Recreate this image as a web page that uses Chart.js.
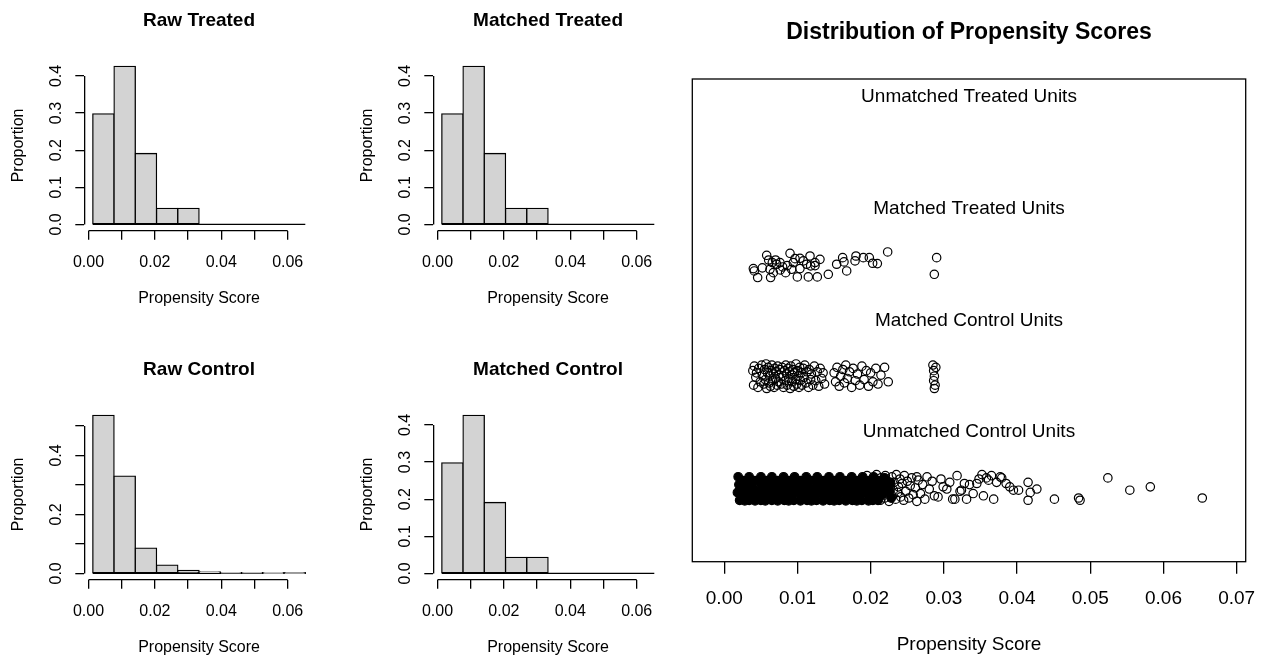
<!DOCTYPE html>
<html>
<head>
<meta charset="utf-8">
<title>Distribution of Propensity Scores</title>
<script src="https://cdn.jsdelivr.net/npm/chart.js@4.4.1/dist/chart.umd.min.js"></script>
<style>
  html, body { margin: 0; padding: 0; background: #fff; }
  body { width: 1262px; height: 657px; position: relative; overflow: hidden; }
  canvas { position: absolute; }
</style>
</head>
<body>
<canvas id="rawTreated" width="349" height="308" style="left:0;top:0"></canvas>
<canvas id="matchedTreated" width="349" height="308" style="left:349px;top:0"></canvas>
<canvas id="rawControl" width="349" height="308" style="left:0;top:349px"></canvas>
<canvas id="matchedControl" width="349" height="308" style="left:349px;top:349px"></canvas>
<canvas id="jitter" width="602" height="657" style="left:660px;top:0"></canvas>
<script>
// Configuración común - estilo R base
Chart.defaults.font.family = "'Liberation Sans', Arial, sans-serif";
Chart.defaults.color = '#000';
Chart.defaults.animation = false;
Chart.defaults.events = [];
Chart.defaults.plugins.legend.display = false;
Chart.defaults.plugins.tooltip.enabled = false;

// ---- histogram data ----
const binEdges = [0.0013, 0.0077, 0.0141, 0.0205, 0.0269, 0.0333, 0.0397, 0.0461, 0.0525, 0.0589, 0.0653];
const rawTreatedProp = [0.298, 0.426, 0.191, 0.043, 0.043, 0, 0, 0, 0, 0];
const matchedTreatedProp = [0.298, 0.426, 0.191, 0.043, 0.043, 0, 0, 0, 0, 0];
const rawControlProp = [0.536, 0.330, 0.086, 0.028, 0.010, 0.005, 0.001, 0.0008, 0.0005, 0.0002];
const matchedControlProp = [0.298, 0.426, 0.191, 0.043, 0.043, 0, 0, 0, 0, 0];

const histXTicks = [0, 0.01, 0.02, 0.03, 0.04, 0.05, 0.06];
const histXLabels = ['0.00', '', '0.02', '', '0.04', '', '0.06'];
const treatedYTicks = [0, 0.1, 0.2, 0.3, 0.4];
const treatedYLabels = ['0.0', '0.1', '0.2', '0.3', '0.4'];
const controlYTicks = [0, 0.1, 0.2, 0.3, 0.4, 0.5];
const controlYLabels = ['0.0', '', '0.2', '', '0.4', ''];

// ---- jitter plot data: [propensity score, row + jitter] ----
const jitterXTicks = [0, 0.01, 0.02, 0.03, 0.04, 0.05, 0.06, 0.07];
const jitterXLabels = ['0.00', '0.01', '0.02', '0.03', '0.04', '0.05', '0.06', '0.07'];
const rowLabels = ['Unmatched Treated Units', 'Matched Treated Units', 'Matched Control Units', 'Unmatched Control Units'];
const rowLabelY = [4.5, 3.5, 2.5, 1.5];

const matchedTreatedPts = [
  [0.00397, 2.963], [0.00410, 2.942], [0.00456, 2.883], [0.00520, 2.970], [0.00579, 3.082],
  [0.00606, 3.040], [0.00624, 2.957], [0.00633, 2.883], [0.00656, 3.017], [0.00670, 2.927],
  [0.00700, 3.040], [0.00715, 3.002], [0.00761, 3.017], [0.00765, 2.951], [0.00797, 2.978],
  [0.00838, 2.927], [0.00860, 2.990], [0.00898, 3.100], [0.00920, 2.957], [0.00943, 3.017],
  [0.00966, 3.052], [0.00998, 2.889], [0.01034, 3.055], [0.01034, 2.963], [0.01080, 3.032],
  [0.01125, 3.002], [0.01148, 2.889], [0.01171, 3.076], [0.01180, 2.987], [0.01239, 3.017],
  [0.01240, 2.990], [0.01271, 2.889], [0.01307, 3.046], [0.01421, 2.912], [0.01535, 3.002],
  [0.01617, 3.061], [0.01635, 3.023], [0.01672, 2.942], [0.01786, 3.032], [0.01799, 3.076],
  [0.01899, 3.061], [0.01981, 3.061], [0.02027, 3.011], [0.02091, 3.008], [0.02232, 3.112],
  [0.02869, 2.912], [0.02901, 3.061]
];

const matchedControlPts = [
  [0.0039, 2.05], [0.0040, 1.92], [0.0041, 2.09], [0.0043, 1.99], [0.0044, 2.03], [0.0046, 1.90],
  [0.0047, 2.07], [0.0049, 1.95], [0.0051, 2.10], [0.0052, 2.01], [0.0054, 1.93], [0.0055, 2.06],
  [0.0056, 1.97], [0.0057, 2.11], [0.0058, 1.89], [0.0059, 2.03], [0.0060, 2.08], [0.0061, 1.94],
  [0.0062, 2.00], [0.0063, 1.91], [0.0064, 2.05], [0.0065, 2.10], [0.0066, 1.96], [0.0067, 2.02],
  [0.0068, 1.90], [0.0069, 2.07], [0.0070, 1.98], [0.0071, 2.04], [0.0072, 1.92], [0.0073, 2.09],
  [0.0074, 1.95], [0.0075, 2.01], [0.0076, 2.06],
  [0.0078, 1.93], [0.0079, 2.08], [0.0080, 2.00], [0.0081, 1.90], [0.0082, 2.05], [0.0083, 1.96],
  [0.0084, 2.10], [0.0085, 2.02], [0.0086, 1.92], [0.0087, 2.07], [0.0088, 1.98], [0.0089, 2.04],
  [0.0090, 1.89], [0.0091, 2.09], [0.0092, 1.95], [0.0093, 2.01], [0.0094, 2.06], [0.0095, 1.91],
  [0.0096, 2.03], [0.0097, 1.97], [0.0098, 2.11], [0.0099, 1.93], [0.0100, 2.05], [0.0101, 2.00],
  [0.0102, 1.90], [0.0103, 2.08], [0.0104, 1.96], [0.0105, 2.03], [0.0106, 1.92], [0.0108, 2.07],
  [0.0109, 1.99], [0.0110, 2.10], [0.0112, 1.94], [0.0113, 2.04], [0.0115, 1.90], [0.0116, 2.06],
  [0.0118, 1.97], [0.0119, 2.02], [0.0121, 1.92], [0.0123, 2.09], [0.0125, 1.96], [0.0127, 2.04],
  [0.0129, 1.91], [0.0131, 2.07], [0.0133, 1.98], [0.0135, 2.03], [0.0137, 1.93],
  [0.0150, 2.03], [0.0152, 1.95], [0.0154, 2.08], [0.0157, 1.91], [0.0159, 2.00], [0.0162, 2.06],
  [0.0164, 1.94], [0.0166, 2.10], [0.0168, 1.98], [0.0171, 2.04], [0.0174, 1.90], [0.0176, 2.07],
  [0.0179, 1.96], [0.0182, 2.02], [0.0185, 1.92], [0.0188, 2.09], [0.0191, 1.97], [0.0194, 2.05],
  [0.0197, 1.91], [0.0200, 2.03], [0.0203, 1.95],
  [0.0207, 2.07], [0.0210, 1.93], [0.0214, 2.01], [0.0219, 2.08], [0.0224, 1.95],
  [0.0285, 2.10], [0.0286, 2.05], [0.0287, 2.00], [0.0286, 1.96], [0.0288, 1.92], [0.0287, 1.89], [0.0289, 2.08]
];

// heavily overplotted core of the unmatched controls
const unmatchedCorePts = [
  [0.0019, 1.10], [0.0020, 1.03], [0.0018, 0.96], [0.0021, 0.89],
  [0.0026, 1.065], [0.0027, 0.995], [0.0026, 0.925], [0.0028, 0.885],
  [0.0034, 1.10], [0.0033, 1.03], [0.0035, 0.96], [0.0034, 0.89],
  [0.0042, 1.065], [0.0041, 0.995], [0.0043, 0.925], [0.0042, 0.885],
  [0.0050, 1.10], [0.0051, 1.03], [0.0049, 0.96], [0.0050, 0.89],
  [0.0057, 1.065], [0.0058, 0.995], [0.0057, 0.925], [0.0056, 0.885],
  [0.0065, 1.10], [0.0064, 1.03], [0.0066, 0.96], [0.0065, 0.89],
  [0.0073, 1.065], [0.0072, 0.995], [0.0074, 0.925], [0.0073, 0.885],
  [0.0081, 1.10], [0.0080, 1.03], [0.0081, 0.96], [0.0082, 0.89],
  [0.0088, 1.065], [0.0089, 0.995], [0.0087, 0.925], [0.0088, 0.885],
  [0.0096, 1.10], [0.0097, 1.03], [0.0096, 0.96], [0.0095, 0.89],
  [0.0104, 1.065], [0.0103, 0.995], [0.0105, 0.925], [0.0104, 0.885],
  [0.0112, 1.10], [0.0111, 1.03], [0.0112, 0.96], [0.0113, 0.89],
  [0.0119, 1.065], [0.0120, 0.995], [0.0118, 0.925], [0.0119, 0.885],
  [0.0127, 1.10], [0.0128, 1.03], [0.0127, 0.96], [0.0126, 0.89],
  [0.0135, 1.065], [0.0134, 0.995], [0.0136, 0.925], [0.0135, 0.885],
  [0.0143, 1.10], [0.0142, 1.03], [0.0143, 0.96], [0.0144, 0.89],
  [0.0150, 1.065], [0.0151, 0.995], [0.0149, 0.925], [0.0150, 0.885],
  [0.0158, 1.10], [0.0159, 1.03], [0.0158, 0.96], [0.0157, 0.89],
  [0.0166, 1.065], [0.0165, 0.995], [0.0167, 0.925], [0.0166, 0.885],
  [0.0174, 1.10], [0.0173, 1.03], [0.0174, 0.96], [0.0175, 0.89],
  [0.0181, 1.065], [0.0182, 0.995], [0.0180, 0.925], [0.0181, 0.885],
  [0.0189, 1.10], [0.0190, 1.03], [0.0189, 0.96], [0.0188, 0.89],
  [0.0197, 1.065], [0.0196, 0.995], [0.0198, 0.925], [0.0197, 0.885],
  [0.0204, 1.10], [0.0205, 1.03], [0.0204, 0.96], [0.0203, 0.89],
  [0.0212, 1.065], [0.0211, 0.995], [0.0213, 0.925], [0.0210, 0.89],
  [0.0219, 1.09], [0.0220, 1.02], [0.0218, 0.95],
  [0.0227, 1.05], [0.0226, 0.98], [0.0228, 0.91]
];

const unmatchedControlPts = [
  [0.0195, 1.11], [0.0198, 0.90], [0.0201, 1.00], [0.0204, 1.07], [0.0206, 0.93], [0.0208, 1.12],
  [0.0209, 0.97], [0.0211, 1.04], [0.0213, 0.89], [0.0214, 1.09], [0.0216, 0.95], [0.0217, 1.02],
  [0.0219, 0.91], [0.0220, 1.11], [0.0222, 0.99], [0.0223, 1.06], [0.0225, 0.88], [0.0226, 1.03],
  [0.0228, 0.94], [0.0229, 1.10], [0.0231, 0.98], [0.0232, 1.05], [0.0234, 0.90], [0.0235, 1.12],
  [0.0237, 0.96], [0.0238, 1.01], [0.0240, 1.08], [0.0241, 0.92], [0.0243, 1.04], [0.0245, 0.89],
  [0.0246, 1.11], [0.0248, 0.97], [0.0250, 1.06], [0.0252, 0.91], [0.0254, 1.02], [0.0256, 1.09],
  [0.0258, 0.94], [0.0261, 1.00], [0.0263, 0.88], [0.0265, 1.07],
  [0.0263, 1.10], [0.0268, 0.95], [0.0271, 1.03], [0.0274, 0.90], [0.0277, 1.10], [0.0280, 0.99],
  [0.0284, 1.06], [0.0287, 0.93], [0.0292, 0.92], [0.0296, 1.08], [0.0299, 1.01], [0.0304, 0.99],
  [0.0308, 1.05], [0.0312, 0.90], [0.0315, 0.90], [0.0318, 1.11], [0.0322, 0.97], [0.0324, 0.98],
  [0.0328, 1.04], [0.0331, 0.90], [0.0335, 1.03], [0.0340, 0.95], [0.0345, 1.04], [0.0348, 1.08],
  [0.0352, 1.12], [0.0354, 0.93], [0.0358, 1.09], [0.0361, 1.07], [0.0365, 1.11], [0.0368, 0.90],
  [0.0372, 1.05], [0.0377, 1.10], [0.0379, 1.09], [0.0385, 1.04],
  [0.0390, 1.01], [0.0395, 0.98], [0.0402, 0.98], [0.0415, 1.05], [0.0418, 0.96], [0.0415, 0.89],
  [0.0427, 0.99], [0.0451, 0.90], [0.0484, 0.91], [0.0486, 0.89], [0.0524, 1.09], [0.0554, 0.98],
  [0.0582, 1.01], [0.0653, 0.91]
];

// ---- plugins ----
// R-style axis lines: only from first to last tick
const rAxes = {
    id: 'rAxes',
    afterDraw(chart) {
        const { ctx, scales: { x, y } } = chart;
        const al = p => Math.round(p - 0.65) + 0.65;
        ctx.save();
        ctx.strokeStyle = '#000';
        ctx.lineWidth = 1.3;
        ctx.beginPath();
        ctx.moveTo(x.getPixelForValue(x.ticks[0].value), al(x.top));
        ctx.lineTo(x.getPixelForValue(x.ticks[x.ticks.length - 1].value), al(x.top));
        ctx.moveTo(al(y.right), y.getPixelForValue(y.ticks[0].value));
        ctx.lineTo(al(y.right), y.getPixelForValue(y.ticks[y.ticks.length - 1].value));
        ctx.stroke();
        ctx.restore();
    }
};

const frame = {
    id: 'frame',
    afterDraw(chart) {
        const { ctx, chartArea: { left, top, width, height } } = chart;
        ctx.save();
        ctx.strokeStyle = '#000';
        ctx.lineWidth = 1.3;
        ctx.strokeRect(left, top, width, height);
        ctx.restore();
    }
};

const rowText = {
    id: 'rowText',
    afterDraw(chart) {
        const { ctx, chartArea, scales: { y } } = chart;
        const cx = (chartArea.left + chartArea.right) / 2;
        ctx.save();
        ctx.fillStyle = '#000';
        ctx.font = "19px 'Liberation Sans', Arial, sans-serif";
        ctx.textAlign = 'center';
        ctx.textBaseline = 'middle';
        rowLabels.forEach((t, i) => ctx.fillText(t, cx, y.getPixelForValue(rowLabelY[i])));
        ctx.restore();
    }
};

// no label overflow padding: the layout is fixed by hand
const noPad = s => { s.paddingLeft = 0; s.paddingRight = 0; s.paddingTop = 0; s.paddingBottom = 0; };

// ---- histograms ----
function makeHist(id, title, heights, yTicks, yLabels, yMin, yMax) {
    const bars = heights.map((h, i) => ({ x: (binEdges[i] + binEdges[i + 1]) / 2, y: h }));
    new Chart(document.getElementById(id), {
        type: 'bar',
        data: {
            datasets: [
                {
                    data: bars,
                    backgroundColor: '#D3D3D3',
                    borderColor: '#000',
                    borderWidth: 1.3,
                    borderSkipped: false,
                    inflateAmount: 0.65,
                    barPercentage: 1,
                    categoryPercentage: 1
                },
                {
                    type: 'line',
                    data: [{ x: binEdges[0], y: 0 }, { x: binEdges[binEdges.length - 1], y: 0 }],
                    borderColor: '#000',
                    borderWidth: 1.3,
                    pointRadius: 0
                }
            ]
        },
        options: {
            responsive: false,
            layout: { padding: { left: 0, right: 35.2, top: 0, bottom: 0 } },
            plugins: {
                title: {
                    display: true,
                    text: title,
                    fullSize: false,
                    color: '#000',
                    font: { size: 19, weight: 'bold' },
                    padding: { top: 9.3, bottom: 28.1 }
                }
            },
            scales: {
                x: {
                    type: 'linear',
                    offset: false,
                    min: -0.00126,
                    max: 0.06786,
                    afterBuildTicks: s => { s.ticks = histXTicks.map(v => ({ value: v })); },
                    afterFit: s => { s.height = 77.3; noPad(s); },
                    ticks: {
                        autoSkip: false,
                        maxRotation: 0,
                        padding: 13,
                        font: { size: 16 },
                        callback: (v, i) => histXLabels[i]
                    },
                    grid: { offset: false, drawOnChartArea: false, tickLength: 9, color: '#000', lineWidth: 1.3 },
                    border: { display: false },
                    title: { display: true, text: 'Propensity Score', font: { size: 16 }, padding: { top: 0, bottom: 0 } }
                },
                y: {
                    min: yMin,
                    max: yMax,
                    afterBuildTicks: s => { s.ticks = yTicks.map(v => ({ value: v })); },
                    afterFit: s => { s.width = 84.3; noPad(s); },
                    ticks: {
                        autoSkip: false,
                        minRotation: 90,
                        maxRotation: 90,
                        crossAlign: 'center',
                        padding: 7.2,
                        font: { size: 16 },
                        callback: (v, i) => yLabels[i]
                    },
                    grid: { drawOnChartArea: false, tickLength: 9, color: '#000', lineWidth: 1.3 },
                    border: { display: false },
                    title: { display: true, text: 'Proportion', font: { size: 16 }, padding: { top: 8.7, bottom: 0 } }
                }
            }
        },
        plugins: [rAxes]
    });
}

makeHist('rawTreated', 'Raw Treated', rawTreatedProp, treatedYTicks, treatedYLabels, -0.017, 0.4425);
makeHist('matchedTreated', 'Matched Treated', matchedTreatedProp, treatedYTicks, treatedYLabels, -0.017, 0.4425);
makeHist('rawControl', 'Raw Control', rawControlProp, controlYTicks, controlYLabels, -0.0214, 0.5569);
makeHist('matchedControl', 'Matched Control', matchedControlProp, treatedYTicks, treatedYLabels, -0.017, 0.4425);

// ---- jitter plot ----
const toXY = pts => pts.map(([x, y]) => ({ x, y }));
const ring = {
    pointRadius: 4.2,
    borderWidth: 1.2,
    borderColor: '#000',
    backgroundColor: 'rgba(0,0,0,0)'
};

new Chart(document.getElementById('jitter'), {
    type: 'scatter',
    data: {
        datasets: [
            { label: 'Matched Treated Units', data: toXY(matchedTreatedPts), ...ring },
            { label: 'Matched Control Units', data: toXY(matchedControlPts), ...ring },
            {
                label: 'Unmatched Control Units (core)',
                data: toXY(unmatchedCorePts),
                pointRadius: 4.3,
                borderWidth: 1.2,
                borderColor: '#000',
                backgroundColor: '#000'
            },
            { label: 'Unmatched Control Units', data: toXY(unmatchedControlPts), ...ring }
        ]
    },
    options: {
        responsive: false,
        layout: { padding: { left: 32.3, right: 16.3, top: 0, bottom: 0 } },
        plugins: {
            title: {
                display: true,
                text: 'Distribution of Propensity Scores',
                fullSize: false,
                color: '#000',
                font: { size: 23, weight: 'bold' },
                padding: { top: 18.9, bottom: 32.5 }
            }
        },
        scales: {
            x: {
                type: 'linear',
                min: -0.00437,
                max: 0.07123,
                afterBuildTicks: s => { s.ticks = jitterXTicks.map(v => ({ value: v })); },
                afterFit: s => { s.height = 95.3; noPad(s); },
                ticks: {
                    autoSkip: false,
                    maxRotation: 0,
                    padding: 13.2,
                    font: { size: 19 },
                    callback: (v, i) => jitterXLabels[i]
                },
                grid: { drawOnChartArea: false, tickLength: 12, color: '#000', lineWidth: 1.3 },
                border: { display: false },
                title: { display: true, text: 'Propensity Score', font: { size: 19 }, padding: { top: 0, bottom: 0.6 } }
            },
            y: {
                display: false,
                min: 0.34,
                max: 4.66
            }
        }
    },
    plugins: [frame, rowText]
});
</script>
</body>
</html>
